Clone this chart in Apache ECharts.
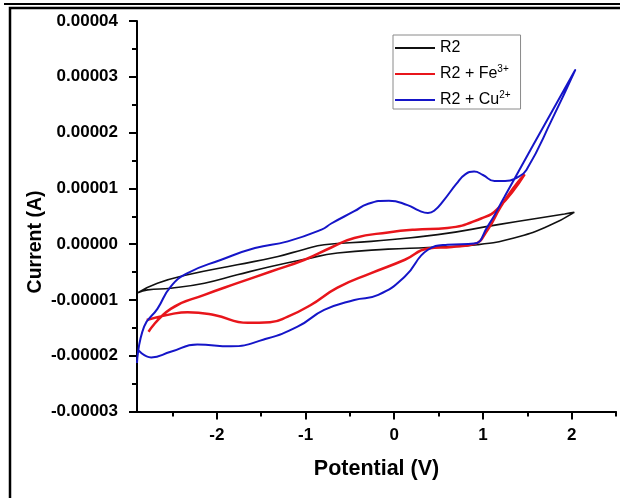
<!DOCTYPE html>
<html>
<head>
<meta charset="utf-8">
<script src="https://cdn.jsdelivr.net/npm/echarts@6/dist/echarts.min.js"></script>
<style>
html,body{margin:0;padding:0;background:#fff;}
#c{width:620px;height:498px;}
</style>
</head>
<body>
<div id="c"></div>
<script>
// ---- data (potential in V, current in A) ----
const r2V = [-2.89,-2.67,-2.33,-1.77,-1.31,-1.01,-0.79,-0.26,0.49,1.17,1.60,1.92,2.03,1.73,1.35,0.94,0.38,-0.07,-0.64,-1.01,-1.39,-1.77,-2.14,-2.52,-2.78,-2.89];
const r2I = [-8.7e-6,-7.0e-6,-5.5e-6,-3.7e-6,-2.2e-6,-0.9e-6,-0.1e-6,0.5e-6,1.7e-6,3.5e-6,4.6e-6,5.4e-6,5.7e-6,3.2e-6,1.1e-6,-0.1e-6,-0.6e-6,-0.9e-6,-1.6e-6,-2.7e-6,-4.0e-6,-5.5e-6,-7.0e-6,-7.9e-6,-8.2e-6,-8.7e-6];

const feV = [-2.79,-2.50,-2.33,-2.03,-1.65,-1.40,-1.20,-0.95,-0.64,-0.26,0.12,0.38,0.65,0.90,1.05,1.20,1.35,1.47,1.17,0.98,0.60,0.23,-0.07,-0.45,-0.71,-1.01,-1.39,-1.77,-2.14,-2.52,-2.77];
const feI = [-13.6e-6,-12.5e-6,-12.2e-6,-12.7e-6,-14.1e-6,-14.0e-6,-13.0e-6,-11.0e-6,-7.8e-6,-5.2e-6,-2.8e-6,-0.8e-6,-0.5e-6,0.0,2.5e-6,6.7e-6,10.2e-6,12.5e-6,6.4e-6,4.6e-6,2.9e-6,2.6e-6,2.1e-6,1.1e-6,-0.6e-6,-2.8e-6,-4.9e-6,-7.0e-6,-9.1e-6,-11.6e-6,-15.7e-6];

const cuV = [-2.89,-2.74,-2.52,-2.22,-1.84,-1.47,-1.09,-0.79,-0.45,-0.18,0.12,0.38,0.60,0.90,1.05,1.24,1.54,2.04,1.78,1.49,1.38,1.25,1.13,1.00,0.90,0.80,0.70,0.56,0.45,0.38,0.28,0.15,-0.06,-0.30,-0.45,-0.71,-0.82,-1.20,-1.57,-1.95,-2.33,-2.52,-2.67,-2.82,-2.90];
const cuI = [-18.9e-6,-20.3e-6,-19.3e-6,-18.0e-6,-18.3e-6,-17.1e-6,-14.8e-6,-11.8e-6,-10.0e-6,-9.1e-6,-5.8e-6,-1.0e-6,-0.1e-6,0.1e-6,3.1e-6,8.4e-6,17.0e-6,31.2e-6,22.4e-6,13.3e-6,11.9e-6,11.3e-6,11.3e-6,12.4e-6,13.0e-6,12.5e-6,10.8e-6,7.9e-6,6.0e-6,5.6e-6,6.0e-6,7.0e-6,7.8e-6,7.2e-6,5.9e-6,3.7e-6,2.6e-6,0.5e-6,-0.7e-6,-2.8e-6,-5.2e-6,-7.6e-6,-11.6e-6,-14.8e-6,-21.3e-6];

const seriesNames = ['R2', 'R2 + Fe3+', 'R2 + Cu2+'];
const legendRich = {'R2': '{a|R2}', 'R2 + Fe3+': '{a|R2 + Fe}{s|3+}', 'R2 + Cu2+': '{a|R2 + Cu}{s|2+}'};
const xMajorTicks = [-2, -1, 0, 1, 2];
const xMinorTicks = [-2.5, -1.5, -0.5, 0.5, 1.5, 2.5];
const xName = 'Potential (V)';
const yName = 'Current (A)';

const zip = (a, b) => a.map((v, i) => [v, b[i]]);
const FF = '"Liberation Sans", Arial, Helvetica, sans-serif';

const chart = echarts.init(document.getElementById('c'), null, {renderer: 'canvas'});
const axisColor = '#000';

const option = {
  animation: false,
  backgroundColor: '#fff',
  grid: {left: 137, right: 4, top: 21, bottom: 86.5, containLabel: false},
  xAxis: [
    {
      type: 'value', min: -2.9, max: 2.5, position: 'bottom',
      axisLine: {onZero: false, lineStyle: {color: axisColor, width: 2}},
      axisTick: {show: true, length: 8, customValues: xMajorTicks, lineStyle: {color: axisColor, width: 2}},
      axisLabel: {customValues: xMajorTicks, margin: 15, color: '#000', fontFamily: FF, fontWeight: 'bold', fontSize: 17,
        formatter: v => String(v)},
      splitLine: {show: false},
      name: xName, nameLocation: 'middle', nameGap: 47,
      nameTextStyle: {color: '#000', fontFamily: FF, fontWeight: 'bold', fontSize: 21.5}
    },
    {
      type: 'value', min: -2.9, max: 2.5, position: 'bottom',
      axisLine: {show: false, onZero: false},
      axisTick: {show: true, length: 5, customValues: xMinorTicks, lineStyle: {color: axisColor, width: 2}},
      axisLabel: {show: false},
      splitLine: {show: false}
    }
  ],
  yAxis: {
    type: 'value', min: -0.00003, max: 0.00004, interval: 0.00001,
    axisLine: {show: true, onZero: false, lineStyle: {color: axisColor, width: 2}},
    axisTick: {show: true, length: 8, lineStyle: {color: axisColor, width: 2}},
    minorTick: {show: true, splitNumber: 2, length: 5, lineStyle: {color: axisColor, width: 2}},
    axisLabel: {margin: 19, color: '#000', fontFamily: FF, fontWeight: 'bold', fontSize: 17,
      formatter: v => (Math.abs(v) < 1e-12 ? '0.00000' : v.toFixed(5))},
    splitLine: {show: false}
  },
  legend: {
    orient: 'vertical', left: 393, top: 35,
    icon: 'rect', itemWidth: 40, itemHeight: 2, itemGap: 8,
    padding: [5, 10, 1, 2],
    borderColor: '#8a8a8a', borderWidth: 1, backgroundColor: '#fff',
    selectedMode: false,
    data: seriesNames,
    formatter: name => legendRich[name],
    textStyle: {
      color: '#000', fontFamily: FF, fontSize: 16,
      rich: {
        a: {color: '#000', fontFamily: FF, fontSize: 16, lineHeight: 20},
        s: {color: '#000', fontFamily: FF, fontSize: 10, lineHeight: 10, verticalAlign: 'top'}
      }
    }
  },
  graphic: [
    {type: 'rect', silent: true, shape: {x: 10, y: 8, width: 700, height: 600},
      style: {fill: 'none', stroke: '#000', lineWidth: 2.5}},
    {type: 'rect', silent: true, shape: {x: 4, y: 3, width: 616, height: 2},
      style: {fill: '#000'}},
    {type: 'text', silent: true, x: 36, y: 242, rotation: Math.PI / 2,
      style: {text: yName, fill: '#000', font: 'bold 19.5px ' + FF, align: 'center', verticalAlign: 'middle'}}
  ],
  series: [
    {name: seriesNames[0], type: 'line', data: zip(r2V, r2I), symbol: 'none', showSymbol: false, smooth: 0.5,
      lineStyle: {color: '#111', width: 1.6}, itemStyle: {color: '#111'}},
    {name: seriesNames[1], type: 'line', data: zip(feV, feI), symbol: 'none', showSymbol: false, smooth: 0.5,
      lineStyle: {color: '#e8151b', width: 2.5}, itemStyle: {color: '#e8151b'}},
    {name: seriesNames[2], type: 'line', data: zip(cuV, cuI), symbol: 'none', showSymbol: false, smooth: 0.5,
      lineStyle: {color: '#1515c8', width: 2}, itemStyle: {color: '#1515c8'}}
  ]
};
chart.setOption(option);
</script>
</body>
</html>
